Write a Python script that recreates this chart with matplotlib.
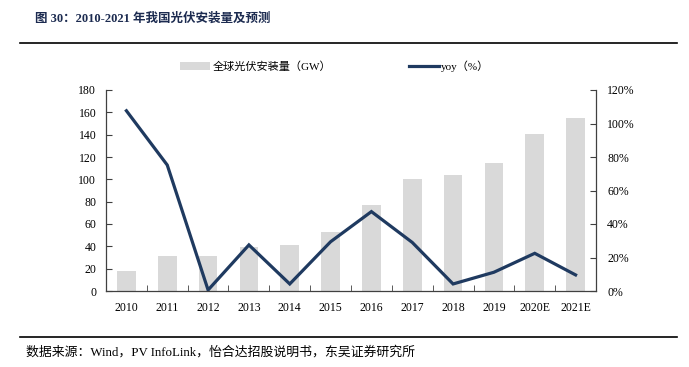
import numpy as np
import matplotlib.pyplot as plt
from matplotlib.patches import Patch
from matplotlib.lines import Line2D

plt.rcParams['font.family'] = ['Liberation Serif', 'Noto Sans CJK SC']
plt.rcParams['axes.unicode_minus'] = False

# Data
years = ['2010', '2011', '2012', '2013', '2014', '2015', '2016',
         '2017', '2018', '2019', '2020E', '2021E']
install_gw = [18, 31, 31, 39, 41, 53, 77, 100, 104, 115, 141, 155]
yoy_pct = [107.6, 75.2, 0.6, 27.5, 4.2, 29.4, 47.4, 29.0, 4.2, 11.2, 22.5, 9.6]

bar_color = '#d9d9d9'
line_color = '#1f3a60'
title_color = '#1c2b50'
spine_color = '#404040'

fig = plt.figure(figsize=(6.89, 3.67), dpi=100)
ax = fig.add_axes([106 / 689, 1 - 291 / 367, 490 / 689, 201 / 367])
ax2 = ax.twinx()

x = np.arange(len(years))
ax.bar(x, install_gw, width=0.46, color=bar_color, zorder=1)
ax2.plot(x, yoy_pct, color=line_color, lw=2.3, solid_joinstyle='miter', zorder=3)

ax.set_xlim(-0.5, len(years) - 0.5)
ax.set_ylim(0, 180)
ax.set_yticks(np.arange(0, 181, 20))
ax2.set_ylim(0, 120)
ax2.set_yticks(np.arange(0, 121, 20))
ax2.set_yticklabels([f'{v}%' for v in range(0, 121, 20)])

ax.set_xticks(x)
ax.set_xticklabels(years)
ax.set_xticks(np.arange(0.5, len(years) - 0.5, 1), minor=True)
ax.tick_params(axis='x', which='major', length=0, pad=8, labelsize=8.5)
ax.tick_params(axis='x', which='minor', direction='in', length=4, color=spine_color)
ax.tick_params(axis='y', direction='in', length=4, pad=7, labelsize=8.5, color=spine_color)
ax2.tick_params(axis='y', direction='in', length=4, pad=8, labelsize=8.5, color=spine_color)

for a in (ax, ax2):
    a.spines['top'].set_visible(False)
    for s in ('left', 'right', 'bottom'):
        a.spines[s].set_color(spine_color)
        a.spines[s].set_linewidth(0.9)
ax.spines['right'].set_visible(False)
ax2.spines['left'].set_visible(False)
ax2.spines['bottom'].set_visible(False)

handles = [Patch(facecolor=bar_color, edgecolor='none'),
           Line2D([0], [0], color=line_color, lw=2.3)]
fig.legend(handles, ['全球光伏安装量（GW）', 'yoy（%）'], loc='center',
           bbox_to_anchor=(335 / 689, 1 - 66 / 367), ncol=2, frameon=False,
           fontsize=8, handlelength=2.7, handleheight=0.8, handletextpad=0.2,
           columnspacing=7.0)

# Title and source
fig.text(35 / 689, 1 - 19 / 367, '图 30：2010-2021 年我国光伏安装量及预测',
         fontsize=9, fontweight='bold', color=title_color, va='center', ha='left')
fig.add_artist(Line2D([20 / 689, 677 / 689], [1 - 43 / 367, 1 - 43 / 367],
                      color='black', lw=1.2))
fig.add_artist(Line2D([20 / 689, 677 / 689], [1 - 337 / 367, 1 - 337 / 367],
                      color='black', lw=1.2))
fig.text(26 / 689, 1 - 352 / 367,
         '数据来源：Wind，PV InfoLink，怡合达招股说明书，东吴证券研究所',
         fontsize=9.3, color='black', va='center', ha='left')

fig.savefig('out.png', dpi=100)
